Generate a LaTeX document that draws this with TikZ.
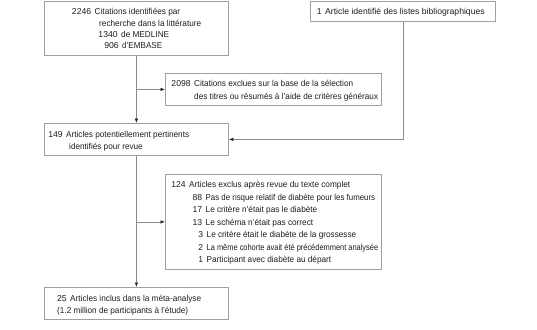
\documentclass[tikz,border=0pt]{standalone}
\usepackage{fontspec}
\usepackage{graphicx}
\setmainfont{Liberation Sans}
\usetikzlibrary{arrows.meta}
\definecolor{linegray}{HTML}{8A8A8A}
\definecolor{boxgray}{HTML}{A0A0A0}
\definecolor{txtcol}{HTML}{1E1E1E}
\begin{document}
\begin{tikzpicture}[x=1pt,y=-1pt,
  box/.style={draw=boxgray,line width=0.8pt,anchor=north west,inner sep=0pt,fill=white},
  txt/.style={anchor=base west,inner sep=0pt,text=txtcol,font=\fontsize{8.6}{10}\selectfont},
  arr/.style={draw=linegray,line width=0.7pt,-{Latex[length=4.5pt,width=3.6pt,color=black!85]}}]
\useasboundingbox (0,0) rectangle (537,329);
\newcommand{\nm}[1]{\llap{#1\hspace{3.6pt}}}
\newcommand{\fw}[2]{\resizebox{#1pt}{\height}{#2}}
% boxes
\node[box,minimum width=184pt,minimum height=54pt] (b1) at (44,0.8) {};
\node[box,minimum width=185pt,minimum height=20.2pt] (b2) at (310,0.8) {};
\node[box,minimum width=216pt,minimum height=32pt] (b3) at (165,73) {};
\node[box,minimum width=184pt,minimum height=32pt] (b4) at (44,123) {};
\node[box,minimum width=216pt,minimum height=95pt] (b5) at (165,174) {};
\node[box,minimum width=184pt,minimum height=32pt] (b6) at (44,287) {};
% texts
\node[txt] (t1a) at (94.5,14.5) {\nm{2246}\fw{85.5}{Citations identifiées par}};
\node[txt] (t1b) at (99,26.5) {\fw{102}{recherche dans la littérature}};
\node[txt] (t1c) at (121,37.5) {\nm{1340}\fw{48}{de MEDLINE}};
\node[txt] (t1d) at (122,48.5) {\nm{906}\fw{40}{d’EMBASE}};
\node[txt] (t2a) at (325,14.5) {\nm{1}\fw{159.5}{Article identifié des listes bibliographiques}};
\node[txt] (t3a) at (194,86.5) {\nm{2098}\fw{159}{Citations exclues sur la base de la sélection}};
\node[txt] (t3b) at (194,99.5) {\fw{184}{des titres ou résumés à l’aide de critères généraux}};
\node[txt] (t4a) at (66,137.5) {\nm{149}\fw{123}{Articles potentiellement pertinents}};
\node[txt] (t4b) at (69,149.5) {\fw{73.6}{identifiés pour revue}};
\node[txt] (t5a) at (189,187.5) {\nm{124}\fw{161}{Articles exclus après revue du texte complet}};
\node[txt] (t5b) at (205.5,200.5) {\nm{88}\fw{169.5}{Pas de risque relatif de diabète pour les fumeurs}};
\node[txt] (t5c) at (205.5,212.5) {\nm{17}\fw{111.5}{Le critère n’était pas le diabète}};
\node[txt] (t5d) at (205.5,225.5) {\nm{13}\fw{107.5}{Le schéma n’était pas correct}};
\node[txt] (t5e) at (206.5,237.5) {\nm{3}\fw{149.5}{Le critère était le diabète de la grossesse}};
\node[txt] (t5f) at (206.5,250.5) {\nm{2}\fw{171.5}{La même cohorte avait été précédemment analysée}};
\node[txt] (t5g) at (206.5,262.5) {\nm{1}\fw{124.5}{Participant avec diabète au départ}};
\node[txt] (t6a) at (70,301.5) {\nm{25}\fw{131}{Articles inclus dans la méta-analyse}};
\node[txt] (t6b) at (57,313.5) {\fw{131}{(1.2 million de participants à l’étude)}};
% connectors
\draw[arr] (b1.south) -- (b4.north);
\draw[arr] (b3.west -| b1.south) -- (b3.west);
\draw[arr] (b4.south) -- (b6.north);
\draw[arr] (b5.west -| b4.south) -- (b5.west);
\draw[arr] (b2.south) |- (b4.east);
\end{tikzpicture}
\end{document}
